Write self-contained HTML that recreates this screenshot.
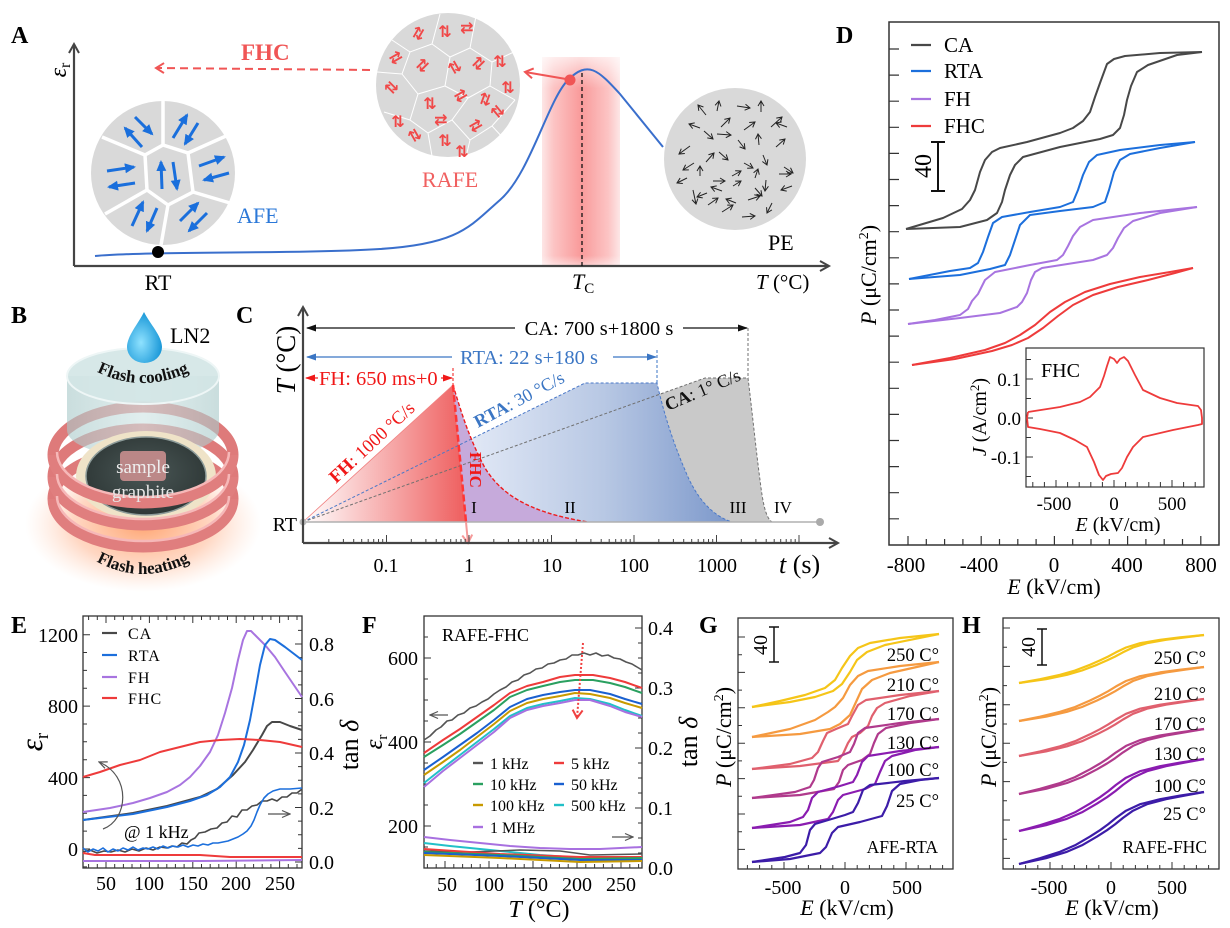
<!DOCTYPE html>
<html><head><meta charset="utf-8">
<style>
html,body{margin:0;padding:0;background:#fff;}
svg{display:block;font-family:"Liberation Serif","DejaVu Serif",serif;}
</style></head><body>
<svg width="1230" height="928" viewBox="0 0 1230 928" xmlns="http://www.w3.org/2000/svg">
<defs>
<marker id="mAx" markerUnits="userSpaceOnUse" markerWidth="14" markerHeight="14" refX="11" refY="7" orient="auto"><path d="M2,2 L11,7 L2,12" fill="none" stroke="#444" stroke-width="2"/></marker>
<marker id="mBlue" markerUnits="userSpaceOnUse" markerWidth="12" markerHeight="12" refX="9" refY="6" orient="auto"><path d="M0,1 L11,6 L0,11 Z" fill="#1a6fdc"/></marker>
<marker id="mBlk" markerUnits="userSpaceOnUse" markerWidth="8" markerHeight="8" refX="6" refY="4" orient="auto"><path d="M1,1 L6,4 L1,7" fill="none" stroke="#222" stroke-width="1"/></marker>
<marker id="mRedA" markerUnits="userSpaceOnUse" markerWidth="14" markerHeight="14" refX="11" refY="7" orient="auto"><path d="M3,2 L11,7 L3,12" fill="none" stroke="#f05555" stroke-width="2"/></marker>
<marker id="mBlkF" markerUnits="userSpaceOnUse" markerWidth="10" markerHeight="10" refX="9" refY="5" orient="auto"><path d="M0,1.5 L10,5 L0,8.5 Z" fill="#111"/></marker>
<marker id="mBluF" markerUnits="userSpaceOnUse" markerWidth="10" markerHeight="10" refX="9" refY="5" orient="auto"><path d="M0,1.5 L10,5 L0,8.5 Z" fill="#3b76c4"/></marker>
<marker id="mRedF" markerUnits="userSpaceOnUse" markerWidth="10" markerHeight="10" refX="9" refY="5" orient="auto"><path d="M0,1.5 L10,5 L0,8.5 Z" fill="#f01818"/></marker>
<marker id="mPink" markerUnits="userSpaceOnUse" markerWidth="14" markerHeight="14" refX="11" refY="7" orient="auto"><path d="M3,2 L11,7 L3,12" fill="none" stroke="#f59a9a" stroke-width="2"/></marker>
<marker id="mGrey" markerUnits="userSpaceOnUse" markerWidth="10" markerHeight="10" refX="9" refY="5" orient="auto"><path d="M1,1.5 L9,5 L1,8.5" fill="none" stroke="#555" stroke-width="1.2"/></marker>
<marker id="mRedD" markerUnits="userSpaceOnUse" markerWidth="14" markerHeight="14" refX="11" refY="7" orient="auto"><path d="M3,2 L11,7 L3,12" fill="none" stroke="#f04040" stroke-width="2"/></marker>

<linearGradient id="band" x1="0" y1="0" x2="1" y2="0">
<stop offset="0" stop-color="#fde6e6"/><stop offset="0.15" stop-color="#fcc4c4"/><stop offset="0.5" stop-color="#f99a9a"/><stop offset="0.85" stop-color="#fcc4c4"/><stop offset="1" stop-color="#fde6e6"/></linearGradient>
<linearGradient id="bandTop" x1="0" y1="0" x2="0" y2="1">
<stop offset="0" stop-color="#fff" stop-opacity="0.7"/><stop offset="0.15" stop-color="#fff" stop-opacity="0"/><stop offset="0.95" stop-color="#fff" stop-opacity="0"/><stop offset="1" stop-color="#fff" stop-opacity="0.5"/></linearGradient>
<linearGradient id="fhG" gradientUnits="userSpaceOnUse" x1="303" y1="0" x2="460" y2="0">
<stop offset="0" stop-color="#ffffff"/><stop offset="1" stop-color="#ef6464"/></linearGradient>
<linearGradient id="rtaG" gradientUnits="userSpaceOnUse" x1="303" y1="0" x2="732" y2="0">
<stop offset="0" stop-color="#ffffff"/><stop offset="0.35" stop-color="#e6ecf8"/><stop offset="0.7" stop-color="#b8c8e4"/><stop offset="1" stop-color="#7b97ca"/></linearGradient>
<radialGradient id="dropG" cx="0.4" cy="0.6" r="0.6">
<stop offset="0" stop-color="#8fe2ff"/><stop offset="1" stop-color="#1a98d8"/></radialGradient>
<radialGradient id="glowG" cx="0.5" cy="0.5" r="0.5">
<stop offset="0" stop-color="#ff9a60" stop-opacity="0.9"/><stop offset="0.6" stop-color="#ffb088" stop-opacity="0.5"/><stop offset="1" stop-color="#ffd0b8" stop-opacity="0"/></radialGradient>
<radialGradient id="diskG" cx="0.5" cy="0.45" r="0.6">
<stop offset="0" stop-color="#4a5756"/><stop offset="1" stop-color="#2c3534"/></radialGradient>
<linearGradient id="cylG" x1="0" y1="0" x2="1" y2="0">
<stop offset="0" stop-color="#a9c9c9"/><stop offset="0.5" stop-color="#cfe4e4"/><stop offset="1" stop-color="#a9c9c9"/></linearGradient>
<path id="coolPath" d="M86,366 Q143,400 200,366"/>
<path id="heatPath" d="M84,554 Q143,594 202,554"/>
</defs>

<!-- ================= PANEL A ================= -->
<text x="11" y="43" font-size="24" font-weight="bold">A</text>
<rect x="542" y="57" width="78" height="209" fill="url(#band)"/>
<rect x="542" y="57" width="78" height="209" fill="url(#bandTop)"/>
<path d="M74,266 L74,44" stroke="#444" stroke-width="2.2" fill="none" marker-end="url(#mAx)"/>
<path d="M74,266 L829,266" stroke="#444" stroke-width="2.2" fill="none" marker-end="url(#mAx)"/>
<text transform="translate(66,70) rotate(-90)" font-size="24" font-style="italic" text-anchor="middle">ε<tspan font-size="16" font-style="normal" dy="4">r</tspan></text>
<path d="M95,256 C150,251 300,254 380,249 S470,226 500,200 S548,100 568,80 S598,70 620,94 L663,147" stroke="#3a6fcc" stroke-width="2" fill="none"/>
<line x1="582" y1="73" x2="582" y2="266" stroke="#111" stroke-width="1.3" stroke-dasharray="4,3"/>
<circle cx="158" cy="252" r="6" fill="#000"/>
<line x1="370" y1="70" x2="156" y2="68" stroke="#f05555" stroke-width="2" stroke-dasharray="8,5" marker-end="url(#mRedA)"/>
<text x="241" y="60" font-size="23" font-weight="bold" fill="#f05555">FHC</text>
<!-- AFE circle -->
<circle cx="163" cy="173" r="72" fill="#d9d9d9"/>
<g stroke="#fff" stroke-width="3.5" fill="none">
<path d="M145,155 L163,145 L188,153 L193,192 L168,205 L147,190 Z"/>
<path d="M163,145 L163,101 M188,153 L226,136 M193,192 L230,203 M168,205 L161,245 M147,190 L105,214 M145,155 L102,137"/>
</g>
<g stroke="#1a6fdc" stroke-width="3" marker-end="url(#mBlue)">
<line x1="142" y1="147" x2="125" y2="128"/><line x1="135" y1="117" x2="152" y2="134"/>
<line x1="173" y1="138" x2="187" y2="115"/><line x1="198" y1="123" x2="185" y2="144"/>
<line x1="107" y1="171" x2="134" y2="167"/><line x1="135" y1="183" x2="109" y2="187"/>
<line x1="162" y1="189" x2="161" y2="162"/><line x1="173" y1="162" x2="177" y2="189"/>
<line x1="199" y1="166" x2="224" y2="157"/><line x1="229" y1="173" x2="204" y2="180"/>
<line x1="132" y1="226" x2="143" y2="202"/><line x1="157" y1="208" x2="147" y2="231"/>
<line x1="180" y1="221" x2="198" y2="203"/><line x1="207" y1="213" x2="189" y2="231"/>
</g>
<text x="237" y="223" font-size="22" fill="#2b78d8">AFE</text>
<text x="158" y="290" font-size="22" text-anchor="middle">RT</text>
<!-- RAFE circle -->
<circle cx="448" cy="85" r="72" fill="#d9d9d9"/>
<g stroke="#fff" stroke-width="1" fill="none">
<path d="M392,40 L410,52 L432,44 L440,14 M432,44 L450,57 L470,48 L476,16 M470,48 L492,62 L514,52 M410,52 L402,74 L377,72 M402,74 L418,94 L445,86 L450,57 M445,86 L468,98 L490,86 L492,62 M490,86 L515,100 M418,94 L410,120 L384,112 M410,120 L428,133 L452,120 L468,98 M452,120 L470,140 L492,126 L515,100 M492,126 L505,140 M428,133 L432,156 M470,140 L466,157"/>
</g>
<g fill="#f04848" font-family="DejaVu Sans, sans-serif" font-size="16" font-weight="bold" text-anchor="middle">
<text x="418" y="39" transform="rotate(30 418 34)">⇅</text>
<text x="445" y="37">⇅</text>
<text x="466" y="33" transform="rotate(90 466 28)">⇅</text>
<text x="395" y="63" transform="rotate(60 395 58)">⇅</text>
<text x="422" y="71" transform="rotate(45 422 66)">⇅</text>
<text x="455" y="73" transform="rotate(-30 455 68)">⇅</text>
<text x="478" y="69" transform="rotate(45 478 64)">⇅</text>
<text x="500" y="67">⇅</text>
<text x="392" y="93" transform="rotate(-45 392 88)">⇅</text>
<text x="430" y="109">⇅</text>
<text x="460" y="101" transform="rotate(60 460 96)">⇅</text>
<text x="485" y="105" transform="rotate(20 485 100)">⇅</text>
<text x="508" y="93">⇅</text>
<text x="398" y="127">⇅</text>
<text x="415" y="141" transform="rotate(-30 415 136)">⇅</text>
<text x="445" y="146">⇅</text>
<text x="475" y="131" transform="rotate(60 475 126)">⇅</text>
<text x="498" y="117" transform="rotate(-40 498 112)">⇅</text>
<text x="462" y="157">⇅</text>
<text x="440" y="125" transform="rotate(90 440 120)">⇅</text>
</g>
<text x="422" y="187" font-size="22" fill="#f06060">RAFE</text>
<circle cx="570" cy="80" r="5.5" fill="#f05555"/>
<line x1="566" y1="79" x2="525" y2="72" stroke="#f05555" stroke-width="2" marker-end="url(#mRedA)"/>
<!-- PE circle -->
<circle cx="735" cy="159" r="71" fill="#d9d9d9"/>
<g stroke="#222" stroke-width="1" marker-end="url(#mBlk)">
<line x1="706" y1="115" x2="698" y2="105"/><line x1="717" y1="111" x2="719" y2="101"/>
<line x1="737" y1="106" x2="750" y2="108"/><line x1="761" y1="112" x2="761" y2="101"/>
<line x1="700" y1="128" x2="689" y2="124"/><line x1="721" y1="127" x2="730" y2="118"/>
<line x1="744" y1="130" x2="755" y2="122"/><line x1="771" y1="127" x2="782" y2="117"/>
<line x1="787" y1="127" x2="776" y2="123"/><line x1="690" y1="146" x2="679" y2="154"/>
<line x1="704" y1="131" x2="713" y2="139"/><line x1="717" y1="134" x2="731" y2="135"/>
<line x1="738" y1="140" x2="745" y2="149"/><line x1="759" y1="145" x2="758" y2="134"/>
<line x1="776" y1="147" x2="785" y2="139"/><line x1="694" y1="163" x2="683" y2="170"/>
<line x1="706" y1="162" x2="714" y2="153"/><line x1="719" y1="152" x2="728" y2="160"/>
<line x1="744" y1="163" x2="753" y2="168"/><line x1="763" y1="155" x2="767" y2="165"/>
<line x1="784" y1="167" x2="793" y2="173"/><line x1="687" y1="178" x2="677" y2="183"/>
<line x1="700" y1="176" x2="700" y2="166"/><line x1="713" y1="181" x2="725" y2="181"/>
<line x1="732" y1="176" x2="741" y2="171"/><line x1="755" y1="178" x2="758" y2="169"/>
<line x1="779" y1="174" x2="791" y2="174"/><line x1="792" y1="186" x2="781" y2="190"/>
<line x1="693" y1="190" x2="696" y2="204"/><line x1="707" y1="193" x2="697" y2="197"/>
<line x1="722" y1="191" x2="711" y2="187"/><line x1="733" y1="186" x2="741" y2="181"/>
<line x1="748" y1="200" x2="760" y2="196"/><line x1="766" y1="180" x2="765" y2="191"/>
<line x1="722" y1="212" x2="733" y2="205"/><line x1="736" y1="203" x2="726" y2="199"/>
<line x1="742" y1="217" x2="755" y2="216"/><line x1="772" y1="203" x2="767" y2="213"/>
<line x1="708" y1="205" x2="718" y2="198"/><line x1="755" y1="188" x2="762" y2="196"/>
</g>
<text x="768" y="250" font-size="22">PE</text>
<text x="572" y="289" font-size="22" font-style="italic">T<tspan font-size="15" font-style="normal" dy="4">C</tspan></text>
<text x="756" y="289" font-size="21"><tspan font-style="italic">T</tspan> (°C)</text>

<!-- ================= PANEL B ================= -->
<text x="11" y="323" font-size="24" font-weight="bold">B</text>
<ellipse cx="143" cy="524" rx="118" ry="68" fill="url(#glowG)"/>
<!-- ring back halves -->
<g fill="none" stroke="#de7a7a" stroke-width="11">
<path d="M53,455 A90,48 0 0 1 233,455"/>
<path d="M53,477 A90,48 0 0 1 233,477"/>
<path d="M53,499 A90,48 0 0 1 233,499"/>
</g>
<!-- cylinder -->
<path d="M67,376 L67,430 A76,27 0 0 0 219,430 L219,376 Z" fill="url(#cylG)" fill-opacity="0.62"/>
<ellipse cx="143" cy="376" rx="76" ry="28" fill="#d3e6e5" fill-opacity="0.9" stroke="#eef6f6" stroke-width="2"/>
<!-- disk -->
<ellipse cx="146" cy="476" rx="70" ry="45" fill="#efe3c8"/>
<ellipse cx="146" cy="476" rx="60" ry="39" fill="url(#diskG)" stroke="#8d9b99" stroke-width="1.5"/>
<rect x="120" y="451" width="46" height="30" rx="4" fill="#c98e8e" opacity="0.9"/>
<!-- ring front halves -->
<g fill="none" stroke="#e07e7e" stroke-width="11">
<path d="M53,455 A90,48 0 0 0 233,455"/>
<path d="M53,477 A90,48 0 0 0 233,477"/>
<path d="M53,499 A90,48 0 0 0 233,499"/>
</g>
<g fill="none" stroke="#f6b8b8" stroke-width="2.5">
<path d="M57,452 A86,45 0 0 0 229,452"/>
<path d="M57,474 A86,45 0 0 0 229,474"/>
<path d="M57,496 A86,45 0 0 0 229,496"/>
</g>
<text x="143" y="473" font-size="19" fill="#eeeeee" text-anchor="middle">sample</text>
<text x="143" y="498" font-size="19" fill="#e6e6e6" text-anchor="middle">graphite</text>
<path d="M144,312 C150,324 162,336 162,347 A17.5,16 0 0 1 127,347 C127,336 138,324 144,312 Z" fill="url(#dropG)"/>
<text x="170" y="343" font-size="22">LN2</text>
<text font-size="17" font-weight="bold" fill="#111"><textPath href="#coolPath" startOffset="50%" text-anchor="middle">Flash cooling</textPath></text>
<text font-size="17" font-weight="bold" fill="#111"><textPath href="#heatPath" startOffset="50%" text-anchor="middle">Flash heating</textPath></text>

<!-- ================= PANEL C ================= -->
<text x="236" y="323" font-size="24" font-weight="bold">C</text>
<path d="M303,522 L705,378 L748,378 C752,410 756,450 760,480 C763,505 766,518 772,522 Z" fill="#c9c9c9"/>
<path d="M303,522 L585,383 L657,383 C663,410 672,440 685,470 C695,495 710,515 732,522 Z" fill="url(#rtaG)"/>
<path d="M453,385 C462,415 470,440 485,468 C500,492 525,512 588,522 L466,522 Z" fill="#c6aadb"/>
<path d="M303,522 L453,385 L466,522 Z" fill="url(#fhG)"/>
<line x1="303" y1="522" x2="453" y2="385" stroke="#f08080" stroke-width="0.8"/>
<path d="M303,522 L585,383 L657,383 C663,410 672,440 685,470 C695,495 710,515 732,522" stroke="#4a78c8" stroke-width="1" stroke-dasharray="3,2" fill="none"/>
<path d="M303,522 L705,378 L748,378 C752,410 756,450 760,480 C763,505 766,518 772,522" stroke="#707070" stroke-width="1" stroke-dasharray="3,2" fill="none"/>
<path d="M453,385 C462,415 470,440 485,468 C500,492 525,512 588,522" stroke="#ee1c1c" stroke-width="1.4" stroke-dasharray="4,2" fill="none"/>
<line x1="748" y1="328" x2="748" y2="378" stroke="#707070" stroke-width="1" stroke-dasharray="3,2"/>
<line x1="657" y1="350" x2="657" y2="383" stroke="#3b76c4" stroke-width="1" stroke-dasharray="3,2"/>
<line x1="453" y1="368" x2="453" y2="385" stroke="#f01818" stroke-width="1" stroke-dasharray="3,2"/>
<line x1="303" y1="522" x2="820" y2="522" stroke="#b0b0b0" stroke-width="1.5"/>
<circle cx="820" cy="522" r="4" fill="#aaa"/>
<circle cx="303" cy="522" r="3.5" fill="#bbb"/>
<line x1="453" y1="385" x2="466" y2="522" stroke="#ff3535" stroke-width="2.5" stroke-dasharray="7,3"/>
<line x1="466" y1="522" x2="468" y2="543" stroke="#f59a9a" stroke-width="2" marker-end="url(#mPink)"/>
<path d="M303,543 L303,307" stroke="#444" stroke-width="2.2" fill="none" marker-end="url(#mAx)"/>
<path d="M303,543 L838,543" stroke="#444" stroke-width="2.2" fill="none" marker-end="url(#mAx)"/>
<path d="M386.5,543v-8 M469,543v-8 M551.5,543v-8 M634,543v-8 M716.5,543v-8 M799,543v-8
M328.8,543v-4 M343.4,543v-4 M353.7,543v-4 M361.7,543v-4 M368.2,543v-4 M373.7,543v-4 M378.5,543v-4 M382.7,543v-4
M411.3,543v-4 M425.9,543v-4 M436.2,543v-4 M444.2,543v-4 M450.7,543v-4 M456.2,543v-4 M461,543v-4 M465.2,543v-4
M493.8,543v-4 M508.4,543v-4 M518.7,543v-4 M526.7,543v-4 M533.2,543v-4 M538.7,543v-4 M543.5,543v-4 M547.7,543v-4
M576.3,543v-4 M590.9,543v-4 M601.2,543v-4 M609.2,543v-4 M615.7,543v-4 M621.2,543v-4 M626,543v-4 M630.2,543v-4
M658.8,543v-4 M673.4,543v-4 M683.7,543v-4 M691.7,543v-4 M698.2,543v-4 M703.7,543v-4 M708.5,543v-4 M712.7,543v-4
M741.3,543v-4 M755.9,543v-4 M766.2,543v-4 M774.2,543v-4 M780.7,543v-4 M786.2,543v-4 M791,543v-4 M795.2,543v-4" stroke="#444" stroke-width="1"/>
<g font-size="20" text-anchor="middle">
<text x="386" y="572">0.1</text><text x="469" y="572">1</text><text x="552" y="572">10</text><text x="634" y="572">100</text><text x="717" y="572">1000</text>
</g>
<text x="779" y="573" font-size="26"><tspan font-style="italic">t</tspan> (s)</text>
<text transform="translate(295,360) rotate(-90)" font-size="27" text-anchor="middle"><tspan font-style="italic">T</tspan> (°C)</text>
<text x="297" y="531" font-size="20" text-anchor="end">RT</text>
<!-- top annotations -->
<line x1="515" y1="328" x2="307" y2="328" stroke="#111" stroke-width="1.2" marker-end="url(#mBlkF)"/>
<line x1="683" y1="328" x2="747" y2="328" stroke="#111" stroke-width="1.2" marker-end="url(#mBlkF)"/>
<text x="599" y="335" font-size="20.5" text-anchor="middle">CA: 700 s+1800 s</text>
<line x1="452" y1="357" x2="307" y2="357" stroke="#3b76c4" stroke-width="1.2" marker-end="url(#mBluF)"/>
<line x1="613" y1="357" x2="656" y2="357" stroke="#3b76c4" stroke-width="1.2" marker-end="url(#mBluF)"/>
<text x="529" y="364" font-size="20.5" fill="#3b76c4" text-anchor="middle">RTA: 22 s+180 s</text>
<line x1="318" y1="378" x2="306" y2="378" stroke="#f01818" stroke-width="1.2" marker-end="url(#mRedF)"/>
<line x1="441" y1="378" x2="452" y2="378" stroke="#f01818" stroke-width="1.2" marker-end="url(#mRedF)"/>
<text x="319" y="385" font-size="20.5" fill="#f01818">FH: 650 ms+0</text>
<text transform="translate(336,484) rotate(-43)" font-size="18.5" fill="#f01818"><tspan font-weight="bold">FH</tspan>: 1000 °C/s</text>
<text transform="translate(478,428) rotate(-28)" font-size="18" fill="#3b76c4"><tspan font-weight="bold">RTA</tspan>: 30 °C/s</text>
<text transform="translate(668,411) rotate(-23)" font-size="18" fill="#111"><tspan font-weight="bold">CA</tspan>: 1° C/s</text>
<text transform="translate(470,452) rotate(90)" font-size="17" font-weight="bold" fill="#f01818">FHC</text>
<g font-size="17" text-anchor="middle"><text x="474" y="513">I</text><text x="570" y="513">II</text><text x="738" y="513">III</text><text x="783" y="513">IV</text></g>

<!-- ================= PANEL D ================= -->
<text x="836" y="43" font-size="24" font-weight="bold">D</text>
<rect x="889" y="22" width="330" height="523" fill="none" stroke="#333" stroke-width="1.5"/>
<path d="M889,49h10 M889,75.1h10 M889,101.2h10 M889,127.3h10 M889,153.4h10 M889,179.5h10 M889,205.6h10 M889,231.7h10 M889,257.8h10 M889,283.9h10 M889,310h10 M889,336.1h10 M889,362.2h10 M889,388.3h10 M889,414.4h10 M889,440.5h10 M889,466.6h10 M889,492.7h10 M889,518.8h10" stroke="#333" stroke-width="1.2"/>
<path d="M908,545v-9 M926.3,545v-6 M944.6,545v-6 M962.9,545v-6 M981.2,545v-9 M999.5,545v-6 M1017.8,545v-6 M1036.1,545v-6 M1054.4,545v-9 M1072.7,545v-6 M1091,545v-6 M1109.3,545v-6 M1127.6,545v-9 M1145.9,545v-6 M1164.2,545v-6 M1182.5,545v-6 M1200.8,545v-9" stroke="#333" stroke-width="1.2"/>
<g font-size="21" text-anchor="middle"><text x="906" y="572">-800</text><text x="979" y="572">-400</text><text x="1054" y="572">0</text><text x="1127" y="572">400</text><text x="1201" y="572">800</text></g>
<text x="1054" y="594" font-size="22" text-anchor="middle"><tspan font-style="italic">E</tspan> (kV/cm)</text>
<text transform="translate(876,275) rotate(-90)" font-size="22" text-anchor="middle"><tspan font-style="italic">P</tspan> (μC/cm<tspan font-size="14" dy="-8">2</tspan><tspan dy="8">)</tspan></text>
<!-- legend -->
<g stroke-width="2.2"><line x1="911" y1="45" x2="931" y2="45" stroke="#484848"/><line x1="911" y1="71" x2="931" y2="71" stroke="#1c6fdc"/><line x1="911" y1="99" x2="931" y2="99" stroke="#a874e0"/><line x1="911" y1="126" x2="931" y2="126" stroke="#ee3b3b"/></g>
<g font-size="21"><text x="944" y="52">CA</text><text x="944" y="78">RTA</text><text x="944" y="106">FH</text><text x="944" y="133">FHC</text></g>
<path d="M938,142V191 M931,142h14 M931,191h14" stroke="#111" stroke-width="2" fill="none"/>
<text transform="translate(931,166) rotate(-90)" font-size="24" text-anchor="middle">40</text>
<g fill="none" stroke-width="2" stroke-linejoin="round">
<polyline stroke="#484848" points="906,229 943,218 962,209 970,200 975,190 980,172 985,160 992,152 1000,148 1027,142 1060,133 1073,128 1083,121 1090,112 1095,97 1100,83 1107,64 1114,59 1125,56 1160,53 1202,52"/>
<polyline stroke="#484848" points="906,229 960,227 987,220 997,213 1002,202 1005,190 1010,175 1015,165 1023,157 1060,147 1100,139 1113,135 1120,128 1124,115 1127,100 1131,86 1137,72 1148,65 1177,55 1202,52"/>
<polyline stroke="#1c6fdc" points="909,279 950,271 970,268 978,263 983,252 988,237 993,223 1002,217 1030,212 1060,207 1073,202 1078,190 1083,175 1089,162 1097,155 1120,150 1160,145 1195,142"/>
<polyline stroke="#1c6fdc" points="909,279 960,275 990,269 1005,265 1010,255 1015,240 1020,225 1030,215 1060,211 1093,207 1105,202 1109,190 1114,172 1120,160 1130,154 1160,148 1195,142"/>
<polyline stroke="#a874e0" points="908,324 935,320 960,315 968,309 972,301 978,294 985,280 995,272 1030,265 1057,260 1063,255 1068,246 1073,236 1080,227 1093,220 1140,213 1197,207"/>
<polyline stroke="#a874e0" points="908,324 960,318 1000,313 1017,307 1022,302 1027,293 1031,280 1035,272 1042,268 1093,260 1107,255 1113,248 1118,238 1124,228 1133,221 1160,213 1197,207"/>
<polyline stroke="#ee3b3b" points="912,365 950,358 985,350 1005,343 1020,335 1035,325 1050,312 1065,302 1085,292 1110,284 1140,277 1170,272 1193,268"/>
<polyline stroke="#ee3b3b" points="912,365 955,359 992,351 1012,345 1028,338 1043,328 1058,316 1073,305 1093,295 1118,287 1148,280 1175,273 1193,268"/>
</g>
<!-- inset -->
<rect x="1026" y="348" width="178" height="139" fill="#fff" stroke="#333" stroke-width="1.2"/>
<path d="M1032.8,487v-5 M1044.4,487v-5 M1056,487v-7 M1067.6,487v-5 M1079.2,487v-5 M1090.8,487v-5 M1102.4,487v-5 M1114,487v-7 M1125.6,487v-5 M1137.2,487v-5 M1148.8,487v-5 M1160.4,487v-5 M1172,487v-7 M1183.6,487v-5 M1195.2,487v-5
M1026,476.5h5 M1026,457h7 M1026,437.5h5 M1026,418h7 M1026,398.5h5 M1026,379h7 M1026,359.5h5" stroke="#333" stroke-width="1"/>
<g font-size="19" text-anchor="end"><text x="1021" y="386">0.1</text><text x="1021" y="425">0.0</text><text x="1021" y="464">-0.1</text></g>
<g font-size="19" text-anchor="middle"><text x="1054" y="510">-500</text><text x="1114" y="510">0</text><text x="1172" y="510">500</text></g>
<text x="1118" y="531" font-size="20" text-anchor="middle"><tspan font-style="italic">E</tspan> (kV/cm)</text>
<text transform="translate(986,417) rotate(-90)" font-size="20" text-anchor="middle"><tspan font-style="italic">J</tspan> (A/cm<tspan font-size="13" dy="-7">2</tspan><tspan dy="7">)</tspan></text>
<text x="1041" y="377" font-size="20">FHC</text>
<polyline fill="none" stroke="#ee3b3b" stroke-width="1.8" stroke-linejoin="round" points="1028,412 1060,407 1080,402 1090,397 1100,387 1104,376 1107,366 1110,357 1114,359 1117,363 1120,359 1124,357 1128,361 1135,375 1143,390 1160,398 1177,403 1198,406 1201,410 1202,418 1202,424 1198,425 1173,430 1143,437 1133,447 1127,457 1122,468 1118,473 1111,474 1106,476 1103,480 1099,475 1094,462 1087,447 1075,440 1060,433 1040,429 1028,427 1027,418 1028,412"/>

<!-- ================= PANEL E ================= -->
<text x="11" y="633" font-size="24" font-weight="bold">E</text>
<rect x="83" y="616" width="219" height="252" fill="none" stroke="#333" stroke-width="1.3"/>
<path d="M83,866.9h4 M83,849h7 M83,831.1h4 M83,813.3h4 M83,795.4h4 M83,777.6h7 M83,759.7h4 M83,741.8h4 M83,724h4 M83,706.1h7 M83,688.3h4 M83,670.4h4 M83,652.5h4 M83,634.7h7
M302,862h-7 M302,848.4h-4 M302,834.75h-4 M302,821.1h-4 M302,807.5h-7 M302,793.9h-4 M302,780.25h-4 M302,766.6h-4 M302,753h-7 M302,739.4h-4 M302,725.75h-4 M302,712.1h-4 M302,698.5h-7 M302,684.9h-4 M302,671.25h-4 M302,657.6h-4 M302,644h-7 M302,630.4h-4
M88.6,868v-4 M97.3,868v-4 M106,868v-7 M114.7,868v-4 M123.4,868v-4 M132,868v-4 M140.7,868v-4 M149.4,868v-7 M158.1,868v-4 M166.8,868v-4 M175.4,868v-4 M184.1,868v-4 M192.8,868v-7 M201.5,868v-4 M210.2,868v-4 M218.8,868v-4 M227.5,868v-4 M236.2,868v-7 M244.9,868v-4 M253.6,868v-4 M262.2,868v-4 M270.9,868v-4 M279.6,868v-7 M288.3,868v-4 M297,868v-4
M88.6,616v4 M97.3,616v4 M106,616v7 M114.7,616v4 M123.4,616v4 M132,616v4 M140.7,616v4 M149.4,616v7 M158.1,616v4 M166.8,616v4 M175.4,616v4 M184.1,616v4 M192.8,616v7 M201.5,616v4 M210.2,616v4 M218.8,616v4 M227.5,616v4 M236.2,616v7 M244.9,616v4 M253.6,616v4 M262.2,616v4 M270.9,616v4 M279.6,616v7 M288.3,616v4 M297,616v4" stroke="#333" stroke-width="1"/>
<g font-size="20" text-anchor="end"><text x="78" y="642">1200</text><text x="78" y="713">800</text><text x="78" y="785">400</text><text x="78" y="856">0</text></g>
<g font-size="20"><text x="309" y="651">0.8</text><text x="309" y="706">0.6</text><text x="309" y="760">0.4</text><text x="309" y="815">0.2</text><text x="309" y="869">0.0</text></g>
<g font-size="20" text-anchor="middle"><text x="106" y="890">50</text><text x="149" y="890">100</text><text x="193" y="890">150</text><text x="236" y="890">200</text><text x="280" y="890">250</text></g>
<text transform="translate(42,742) rotate(-90)" font-size="31" font-style="italic" text-anchor="middle">ε<tspan font-size="19" font-style="normal" dy="6">r</tspan></text>
<text transform="translate(358,745) rotate(-90)" font-size="26" text-anchor="middle">tan <tspan font-style="italic">δ</tspan></text>
<g stroke-width="2.2"><line x1="102" y1="633" x2="117" y2="633" stroke="#484848"/><line x1="102" y1="655" x2="117" y2="655" stroke="#1c6fdc"/><line x1="102" y1="677" x2="117" y2="677" stroke="#a874e0"/><line x1="102" y1="698" x2="117" y2="698" stroke="#ee3b3b"/></g>
<g font-size="16" letter-spacing="1"><text x="128" y="639">CA</text><text x="128" y="661">RTA</text><text x="128" y="683">FH</text><text x="128" y="704">FHC</text></g>
<g fill="none" stroke-width="2" stroke-linejoin="round">
<polyline stroke="#484848" points="83,820 133,813 167,806 200,797 217,789 233,775 245,762 253,750 262,735 267,726 272,722 280,722 290,726 302,730"/>
<polyline stroke="#a874e0" points="83,812 110,808 133,803 150,798 167,792 180,785 190,777 200,766 210,752 218,735 225,713 232,688 238,660 243,640 247,631 251,631 255,635 265,645 275,657 285,672 302,697"/>
<polyline stroke="#1c6fdc" points="83,820 133,814 167,807 190,801 207,795 220,787 230,777 238,762 244,745 250,720 255,693 260,665 265,645 270,639 275,640 285,647 302,660"/>
<polyline stroke="#ee3b3b" points="83,777 100,772 120,765 140,760 160,752 180,747 200,742 220,740 240,739 260,740 280,742 302,747"/>
<polyline stroke="#484848" stroke-width="1.6" points="83,852 90,850 97,853 104,851 111,852 118,850 125,852 132,849 139,851 146,848 153,850 160,847 167,848 172,846 177,847 182,843 187,844 191,840 195,838 199,833 205,832 211,829 217,828 222,823 227,822 232,816 237,817 242,810 247,810 252,806 257,805 262,801 267,801 272,799 277,801 282,797 287,797 292,793 297,793 302,789"/>
<polyline stroke="#1c6fdc" stroke-width="1.6" points="83,848 88,852 93,849 98,851 103,848 108,852 113,849 118,851 123,848 128,850 133,847 138,850 143,848 148,849 153,847 158,849 163,846 168,848 173,846 178,847 183,845 188,847 193,845 198,846 203,844 208,845 213,843 218,843 223,842 228,841 233,839 238,837 243,834 247,831 251,826 254,820 257,812 260,805 264,798 268,794 273,791 280,789 290,789 302,788"/>
<polyline stroke="#ee3b3b" points="83,853 95,855 200,855 230,857 302,857"/>
<polyline stroke="#a874e0" points="83,861 200,861 302,860"/>
</g>
<path d="M103,829 C128,820 132,776 99,762" stroke="#555" stroke-width="1.2" fill="none" marker-end="url(#mGrey)"/>
<text x="124" y="838" font-size="18">@ 1 kHz</text>
<line x1="268" y1="814" x2="290" y2="814" stroke="#555" stroke-width="1.2" marker-end="url(#mGrey)"/>

<!-- ================= PANEL F ================= -->
<text x="362" y="633" font-size="24" font-weight="bold">F</text>
<rect x="424" y="616" width="218" height="252" fill="none" stroke="#333" stroke-width="1.3"/>
<path d="M424,847h4 M424,826h7 M424,805h4 M424,784h4 M424,763h4 M424,742h7 M424,721h4 M424,700h4 M424,679h4 M424,658h7 M424,637h4
M642,853h-4 M642,838h-4 M642,823h-4 M642,808h-7 M642,793h-4 M642,778h-4 M642,763h-4 M642,748h-7 M642,733h-4 M642,718h-4 M642,703h-4 M642,688h-7 M642,673h-4 M642,658h-4 M642,643h-4 M642,628h-7
M427.4,868v-4 M436.2,868v-4 M445,868v-7 M453.8,868v-4 M462.6,868v-4 M471.4,868v-4 M480.2,868v-4 M489,868v-7 M497.8,868v-4 M506.6,868v-4 M515.4,868v-4 M524.2,868v-4 M533,868v-7 M541.8,868v-4 M550.6,868v-4 M559.4,868v-4 M568.2,868v-4 M577,868v-7 M585.8,868v-4 M594.6,868v-4 M603.4,868v-4 M612.2,868v-4 M621,868v-7 M629.8,868v-4 M638.6,868v-4" stroke="#333" stroke-width="1"/>
<g font-size="20" text-anchor="end"><text x="418" y="665">600</text><text x="418" y="749">400</text><text x="418" y="833">200</text></g>
<g font-size="20"><text x="648" y="635">0.4</text><text x="648" y="695">0.3</text><text x="648" y="755">0.2</text><text x="648" y="815">0.1</text><text x="648" y="875">0.0</text></g>
<g font-size="20" text-anchor="middle"><text x="447" y="891">50</text><text x="489" y="891">100</text><text x="533" y="891">150</text><text x="577" y="891">200</text><text x="621" y="891">250</text></g>
<text x="539" y="917" font-size="24" text-anchor="middle"><tspan font-style="italic">T</tspan> (°C)</text>
<text transform="translate(382,742) rotate(-90)" font-size="25" font-style="italic" text-anchor="middle">ε<tspan font-size="15" font-style="normal" dy="5">r</tspan></text>
<text transform="translate(697,742) rotate(-90)" font-size="26" text-anchor="middle">tan <tspan font-style="italic">δ</tspan></text>
<text x="442" y="641" font-size="18">RAFE-FHC</text>
<g fill="none" stroke-width="2" stroke-linejoin="round">
<polyline stroke="#555" stroke-width="1.6" points="424,740 430,736 436,730 441,727 447,721 452,720 458,715 464,713 470,708 476,706 482,702 488,699 494,694 500,690 506,687 512,682 518,680 524,675 530,673 536,669 542,668 548,664 554,663 560,660 566,659 572,655 578,655 584,653 590,655 596,653 602,656 608,655 614,658 620,659 626,662 632,664 637,667 642,670"/>
<polyline stroke="#ee3b3b" points="424,753 443,740 460,729 477,717 494,705 510,693 527,686 543,682 560,677 575,675 593,675 610,678 625,682 642,688"/>
<polyline stroke="#2aa060" points="424,757 443,745 460,734 477,722 494,710 510,697 527,690 543,686 560,682 575,680 593,680 610,683 625,687 642,693"/>
<polyline stroke="#1a60d0" points="424,770 443,757 460,745 477,733 494,720 510,707 527,699 543,695 560,692 575,690 590,690 610,694 625,699 642,704"/>
<polyline stroke="#c89a00" points="424,775 443,762 460,750 477,737 494,724 510,711 527,703 543,699 560,696 575,693 590,694 610,698 625,703 642,708"/>
<polyline stroke="#22c0c8" points="424,783 443,768 460,755 477,742 494,729 510,716 527,708 543,704 560,701 575,698 590,699 610,704 625,710 642,716"/>
<polyline stroke="#a870e0" points="424,787 443,771 460,758 477,745 494,732 510,718 527,710 543,706 560,703 575,700 590,700 610,706 625,712 642,717"/>
<polyline stroke="#a870e0" points="424,837 450,840 480,843 510,846 540,848 570,849 600,849 642,847"/>
<polyline stroke="#22c0c8" points="424,843 450,846 480,849 510,852 540,855 570,857 600,859 642,858"/>
<polyline stroke="#555" stroke-width="1.5" points="424,851 470,852 520,850 560,851 590,855 642,854"/>
<polyline stroke="#ee3b3b" points="424,849 500,854 580,857 642,857"/>
<polyline stroke="#2aa060" points="424,852 500,855 580,859 642,858"/>
<polyline stroke="#1a60d0" points="424,853 500,856 580,860 642,860"/>
<polyline stroke="#c89a00" points="424,855 500,858 580,862 642,861"/>
</g>
<line x1="583" y1="643" x2="577" y2="718" stroke="#f04040" stroke-width="2" stroke-dasharray="2,2" marker-end="url(#mRedD)"/>
<line x1="448" y1="715" x2="430" y2="715" stroke="#555" stroke-width="1.2" marker-end="url(#mGrey)"/>
<line x1="612" y1="837" x2="633" y2="837" stroke="#555" stroke-width="1.2" marker-end="url(#mGrey)"/>
<g stroke-width="2.4">
<line x1="473" y1="763" x2="483" y2="763" stroke="#555"/><line x1="554" y1="763" x2="564" y2="763" stroke="#ee3b3b"/>
<line x1="473" y1="784" x2="483" y2="784" stroke="#2aa060"/><line x1="554" y1="784" x2="564" y2="784" stroke="#1a60d0"/>
<line x1="473" y1="805" x2="483" y2="805" stroke="#c89a00"/><line x1="554" y1="805" x2="564" y2="805" stroke="#22c0c8"/>
<line x1="473" y1="827" x2="483" y2="827" stroke="#a870e0"/>
</g>
<g font-size="16"><text x="490" y="769">1 kHz</text><text x="571" y="769">5 kHz</text><text x="490" y="790">10 kHz</text><text x="571" y="790">50 kHz</text><text x="490" y="811">100 kHz</text><text x="571" y="811">500 kHz</text><text x="490" y="833">1 MHz</text></g>

<!-- ================= PANEL G ================= -->
<text x="699" y="633" font-size="24" font-weight="bold">G</text>
<rect x="738" y="618" width="215" height="251" fill="none" stroke="#333" stroke-width="1.3"/>
<path d="M738,637h7 M738,654.7h4 M738,672.4h7 M738,690.1h4 M738,707.8h7 M738,725.5h4 M738,743.2h7 M738,760.9h4 M738,778.6h7 M738,796.3h4 M738,814h7 M738,831.7h4 M738,849.4h7
M747.4,869v-4 M759.6,869v-4 M771.8,869v-4 M784,869v-7 M796.2,869v-4 M808.4,869v-4 M820.6,869v-4 M832.8,869v-4 M845,869v-7 M857.2,869v-4 M869.4,869v-4 M881.6,869v-4 M893.8,869v-4 M906,869v-7 M918.2,869v-4 M930.4,869v-4 M942.6,869v-4" stroke="#333" stroke-width="1"/>
<g font-size="20" text-anchor="middle"><text x="783" y="894">-500</text><text x="845" y="894">0</text><text x="907" y="894">500</text></g>
<text x="847" y="915" font-size="22" text-anchor="middle"><tspan font-style="italic">E</tspan> (kV/cm)</text>
<text transform="translate(731,737) rotate(-90)" font-size="22" text-anchor="middle"><tspan font-style="italic">P</tspan> (μC/cm<tspan font-size="14" dy="-8">2</tspan><tspan dy="8">)</tspan></text>
<path d="M774,627V662 M769,627h10 M769,662h10" stroke="#111" stroke-width="1.5" fill="none"/>
<text transform="translate(767,645) rotate(-90)" font-size="20" text-anchor="middle">40</text>
<g fill="none" stroke-width="2.2" stroke-linejoin="round">
<polyline stroke="#f5c518" points="939,634 900,638 870,643 858,648 850,656 842,668 835,680 825,688 805,695 780,701 752,707"/>
<polyline stroke="#f5c518" points="752,707 790,702 815,697 833,691 842,684 850,672 857,660 867,652 885,645 939,634"/>
<polyline stroke="#f59a40" points="939,662 900,666 868,671 858,676 850,685 843,698 835,707 828,712 815,720 790,729 752,737"/>
<polyline stroke="#f59a40" points="752,737 800,734 830,729 840,724 850,715 856,702 862,689 872,680 890,673 939,662"/>
<polyline stroke="#e0606e" points="939,691 900,695 866,700 858,705 852,716 848,724 836,729 827,733 823,741 818,752 812,758 790,764 752,769"/>
<polyline stroke="#e0606e" points="752,769 800,766 838,761 843,754 848,743 852,737 860,733 868,726 872,716 877,708 885,703 910,696 939,691"/>
<polyline stroke="#b03a8c" points="939,719 900,723 865,728 858,733 854,744 850,752 838,757 822,762 818,768 814,780 810,787 795,792 752,798"/>
<polyline stroke="#b03a8c" points="752,798 800,795 834,789 839,782 843,770 848,765 862,760 870,754 874,743 878,734 886,728 910,723 939,719"/>
<polyline stroke="#8a1cb0" points="939,747 900,751 868,756 862,762 857,775 853,782 840,786 818,792 812,798 808,810 803,817 790,822 752,828"/>
<polyline stroke="#8a1cb0" points="752,828 800,825 828,819 833,812 838,800 843,795 865,789 875,784 880,772 885,761 892,756 915,750 939,747"/>
<polyline stroke="#3c1ca8" points="939,778 905,781 870,785 863,790 858,803 853,812 845,815 815,824 810,830 806,845 800,853 785,857 752,862"/>
<polyline stroke="#3c1ca8" points="752,862 790,859 820,853 826,847 832,833 838,827 860,822 882,816 887,806 892,791 900,784 920,780 939,778"/>
</g>
<g font-size="18.5" text-anchor="end"><text x="939" y="661">250 C°</text><text x="939" y="691">210 C°</text><text x="939" y="720">170 C°</text><text x="939" y="749">130 C°</text><text x="939" y="776">100 C°</text><text x="939" y="807">25 C°</text></g>
<text x="938" y="853" font-size="17.5" text-anchor="end">AFE-RTA</text>

<!-- ================= PANEL H ================= -->
<text x="962" y="633" font-size="24" font-weight="bold">H</text>
<rect x="1003" y="618" width="216" height="251" fill="none" stroke="#333" stroke-width="1.3"/>
<path d="M1003,628h7 M1003,647.2h4 M1003,666.4h7 M1003,685.6h4 M1003,704.8h7 M1003,724h4 M1003,743.2h7 M1003,762.4h4 M1003,781.6h7 M1003,800.8h4 M1003,820h7 M1003,839.2h4 M1003,858.4h7
M1013.4,869v-4 M1025.6,869v-4 M1037.8,869v-4 M1050,869v-7 M1062.2,869v-4 M1074.4,869v-4 M1086.6,869v-4 M1098.8,869v-4 M1111,869v-7 M1123.2,869v-4 M1135.4,869v-4 M1147.6,869v-4 M1159.8,869v-4 M1172,869v-7 M1184.2,869v-4 M1196.4,869v-4 M1208.6,869v-4" stroke="#333" stroke-width="1"/>
<g font-size="20" text-anchor="middle"><text x="1049" y="894">-500</text><text x="1111" y="894">0</text><text x="1172" y="894">500</text></g>
<text x="1112" y="915" font-size="22" text-anchor="middle"><tspan font-style="italic">E</tspan> (kV/cm)</text>
<text transform="translate(996,737) rotate(-90)" font-size="22" text-anchor="middle"><tspan font-style="italic">P</tspan> (μC/cm<tspan font-size="14" dy="-8">2</tspan><tspan dy="8">)</tspan></text>
<path d="M1042,629V665 M1037,629h10 M1037,665h10" stroke="#111" stroke-width="1.5" fill="none"/>
<text transform="translate(1035,647) rotate(-90)" font-size="20" text-anchor="middle">40</text>
<g fill="none" stroke-width="2.2" stroke-linejoin="round">
<polyline stroke="#f5c518" points="1019,683 1040,679.2 1060,674.8 1075,670.5 1090,664.8 1100,660.4 1108,656.6 1116,652.3 1126,647.5 1140,643.2 1160,639.8 1180,637.4 1204,635"/>
<polyline stroke="#f5c518" points="1019,683 1046,679.2 1067,674.8 1082,670.5 1097,664.8 1107,660.4 1115,656.6 1123,652.3 1133,647.5 1147,643.2 1166,639.8 1185,637.4 1204,635"/>
<polyline stroke="#f59a40" points="1019,721 1040,716.7 1060,711.8 1075,707 1090,700.5 1100,695.6 1108,691.3 1116,686.4 1126,681 1140,676.2 1160,672.4 1180,669.7 1204,667"/>
<polyline stroke="#f59a40" points="1019,721 1046,716.7 1067,711.8 1082,707 1097,700.5 1107,695.6 1115,691.3 1123,686.4 1133,681 1147,676.2 1166,672.4 1185,669.7 1204,667"/>
<polyline stroke="#e0606e" points="1019,756 1040,751.4 1060,746.3 1075,741.2 1090,734.3 1100,729.2 1108,724.6 1116,719.5 1126,713.8 1140,708.7 1160,704.7 1180,701.8 1204,699"/>
<polyline stroke="#e0606e" points="1019,756 1046,751.4 1067,746.3 1082,741.2 1097,734.3 1107,729.2 1115,724.6 1123,719.5 1133,713.8 1147,708.7 1166,704.7 1185,701.8 1204,699"/>
<polyline stroke="#b03a8c" points="1019,794 1040,788.8 1060,783 1075,777.1 1090,769.3 1100,763.5 1108,758.3 1116,752.4 1126,745.9 1140,740.1 1160,735.5 1180,732.3 1204,729"/>
<polyline stroke="#b03a8c" points="1019,794 1046,788.8 1067,783 1082,777.1 1097,769.3 1107,763.5 1115,758.3 1123,752.4 1133,745.9 1147,740.1 1166,735.5 1185,732.3 1204,729"/>
<polyline stroke="#8a1cb0" points="1019,831 1040,825.2 1060,818.8 1075,812.3 1090,803.6 1100,797.2 1108,791.4 1116,784.9 1126,777.7 1140,771.2 1160,766.2 1180,762.6 1204,759"/>
<polyline stroke="#8a1cb0" points="1019,831 1046,825.2 1067,818.8 1082,812.3 1097,803.6 1107,797.2 1115,791.4 1123,784.9 1133,777.7 1147,771.2 1166,766.2 1185,762.6 1204,759"/>
<polyline stroke="#3c1ca8" points="1019,864 1040,858.2 1060,851.8 1075,845.3 1090,836.6 1100,830.2 1108,824.4 1116,817.9 1126,810.7 1140,804.2 1160,799.2 1180,795.6 1204,792"/>
<polyline stroke="#3c1ca8" points="1019,864 1046,858.2 1067,851.8 1082,845.3 1097,836.6 1107,830.2 1115,824.4 1123,817.9 1133,810.7 1147,804.2 1166,799.2 1185,795.6 1204,792"/>
</g>
<g font-size="18.5" text-anchor="end"><text x="1206" y="664">250 C°</text><text x="1206" y="700">210 C°</text><text x="1206" y="730">170 C°</text><text x="1206" y="760">130 C°</text><text x="1206" y="792">100 C°</text><text x="1206" y="820">25 C°</text></g>
<text x="1207" y="853" font-size="17.5" text-anchor="end">RAFE-FHC</text>
</svg>
</body></html>
